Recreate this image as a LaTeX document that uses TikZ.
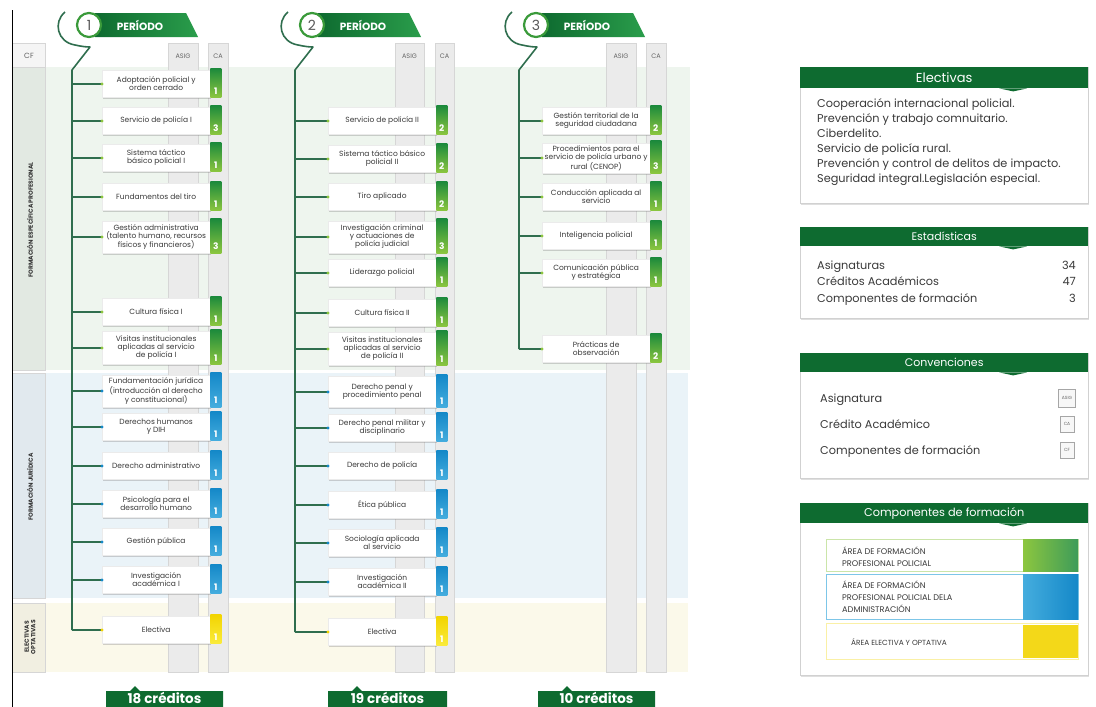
\documentclass[tikz,border=0pt]{standalone}
\usepackage{fontspec}
\setmainfont{Poppins}
\usetikzlibrary{shadows,calc}
\definecolor{dkgreen}{HTML}{0E6B30}
\definecolor{bannerR}{HTML}{2A9D4B}
\definecolor{trunkc}{HTML}{2F6E4E}
\definecolor{tabgA}{HTML}{1C8A3C}
\definecolor{tabgB}{HTML}{8CC63F}
\definecolor{tabbA}{HTML}{1488C8}
\definecolor{tabbB}{HTML}{45ADDE}
\definecolor{tabyA}{HTML}{F2D400}
\definecolor{tabyB}{HTML}{FAEB3C}
\definecolor{bandG}{HTML}{EEF5EE}
\definecolor{bandB}{HTML}{EAF3F8}
\definecolor{bandY}{HTML}{FBF9EA}
\definecolor{colgrey}{HTML}{EBEBEB}
\definecolor{colline}{HTML}{D6D6D6}
\definecolor{txt}{HTML}{3A3A3A}
\definecolor{ringc}{HTML}{3A9A3A}
\tikzset{
  x=1pt, y=-1pt,
  cbox/.style={fill=white, draw=black!8, line width=0.3pt, minimum width=108pt,
    inner sep=1pt, align=center, text=txt, font=\fontsize{7.5}{8}\selectfont,
    drop shadow={shadow xshift=0.8pt, shadow yshift=-1.5pt, opacity=0.35}},
  branch/.style={draw=trunkc, line width=1.4pt},
  trunkline/.style={draw=trunkc, line width=1.6pt, line join=round},
  tabg/.style={top color=tabgA, bottom color=tabgB},
  tabb/.style={top color=tabbA, bottom color=tabbB},
  taby/.style={top color=tabyA, bottom color=tabyB},
  dotg/.style={fill=tabgB},
  dotb/.style={fill=tabbA},
  doty/.style={fill=tabyA},
  tabnum/.style={text=white, font=\bfseries\fontsize{9}{9}\selectfont, inner sep=0},
  colband/.style={fill=colgrey, draw=colline, line width=0.4pt},
  hdr/.style={text=black!60, font=\fontsize{6.5}{7}\selectfont},
  cflabel/.style={text=black!80, font=\bfseries\fontsize{6}{6.6}\selectfont, rotate=90, align=center},
  panel/.style={fill=white, draw=black!18, line width=0.5pt, minimum width=288pt, inner sep=0,
    drop shadow={shadow xshift=0.8pt, shadow yshift=-1.5pt, opacity=0.25}},
  phead/.style={fill=dkgreen, text=white, minimum width=288pt, inner sep=0},
  ptext/.style={text=txt, font=\fontsize{11.3}{12}\selectfont, inner sep=0, anchor=base west},
  credit/.style={fill=dkgreen},
  credtext/.style={text=white, font=\bfseries\fontsize{13.5}{14}\selectfont, anchor=base, inner sep=0},
  convbox/.style={draw=black!35, fill=black!3, inner sep=0, text=black!60, font=\fontsize{4.5}{5}\selectfont},
  comptext/.style={ptext, font=\fontsize{8.2}{9}\selectfont},
}
\newcommand\course[8]{%
  \coordinate (#1t) at (#2,#4);
  \node[cbox, minimum height=#5pt, anchor=west] (#1) at (#3,#4) {#8};
  \path[tab#6] ($(#1.north east)+(0,-2)$) rectangle ($(#1.south east)+(11,0)$);
  \node[tabnum] (#1n) at ($(#1.south east)+(5.5,-6.5)$) {#7};
  \draw[branch] (#1t) -- (#1.west);
  \fill[dot#6] (#1.west) circle (1.7pt);
}
\newcommand\period[4]{%
  \begin{scope}[xshift=#2pt]
    \path[left color=dkgreen, right color=bannerR] (95,13) -- (186,13) -- (198,37) -- (95,37) -- cycle;
    \node[text=white, font=\bfseries\fontsize{10.5}{11}\selectfont] (#1p) at (140,25) {PERÍODO};
    \node[circle, fill=white, draw=ringc, line width=2.2pt, minimum size=24pt, inner sep=0,
      font=\fontsize{14}{14}\selectfont, text=black!65] (#1) at (89,25) {#3};
    \coordinate (#1top) at (72,70);
  \end{scope}
  \draw[trunkline] ($(#1top)+(-7,-58)$) .. controls ($(#1top)+(-19,-48)$) and ($(#1top)+(-15,-28)$) .. ($(#1top)+(3,-25)$)
     .. controls ($(#1top)+(10,-23.5)$) and ($(#1top)+(14,-23)$) .. ($(#1top)+(18,-23)$) -- (#1top) -- (#4);
}
\begin{document}
\begin{tikzpicture}
\useasboundingbox (0,0) rectangle (1096,707);
\fill[white] (0,0) rectangle (1096,707);
% row bands
\fill[bandG] (45,67) rectangle (690,370);
\fill[bandB] (45,373) rectangle (688,598);
\fill[bandY] (45,603) rectangle (688,672);
% CF column
\path[fill=black!4, draw=colline, line width=0.4pt] (12,43) rectangle (45,67);
\path[fill=black!5!bandG, draw=colline, line width=0.4pt] (12,67) rectangle (45,370);
\path[fill=black!4!bandB, draw=colline, line width=0.4pt] (12,373) rectangle (45,598);
\path[fill=black!4!bandY, draw=colline, line width=0.4pt] (12,603) rectangle (45,672);
\node[hdr, font=\fontsize{7.5}{8}\selectfont] (hcf) at (29,56) {CF};
\node[cflabel] (l1) at (30,220) {FORMACIÓN ESPECÍFICA PROFESIONAL};
\node[cflabel] (l2) at (30,487) {FORMACIÓN JURÍDICA};
\node[cflabel] (l3) at (30,637) {ELECTIVAS\\OPTATIVAS};
% ASIG / CA column bands
\path[colband] (168,43) rectangle (198,672);
\path[colband] (208,43) rectangle (228,672);
\path[colband] (395,43) rectangle (424,672);
\path[colband] (435,43) rectangle (454,672);
\path[colband] (606,43) rectangle (636,672);
\path[colband] (646,43) rectangle (666,672);
\node[hdr] (ha1) at (183,56) {ASIG};
\node[hdr] (hc1) at (218,56) {CA};
\node[hdr] (ha2) at (409.5,56) {ASIG};
\node[hdr] (hc2) at (444.5,56) {CA};
\node[hdr] (ha3) at (621,56) {ASIG};
\node[hdr] (hc3) at (656,56) {CA};
% left frame line
\draw[black, line width=1pt] (12,10) -- (12,707);

% ---------------- column 1
\course{a1}{72}{102}{84}{27}{g}{1}{Adoptación policial y\\orden cerrado}
\course{a2}{72}{102}{121}{27}{g}{3}{Servicio de policía I}
\course{a3}{72}{102}{158}{27}{g}{1}{Sistema táctico\\básico policial I}
\course{a4}{72}{102}{197}{27}{g}{1}{Fundamentos del tiro}
\course{a5}{72}{102}{237}{32}{g}{3}{Gestión administrativa\\(talento humano, recursos\\físicos y financieros)}
\course{a6}{72}{102}{312}{27}{g}{1}{Cultura física I}
\course{a7}{72}{102}{348}{33}{g}{1}{Visitas institucionales\\aplicadas al servicio\\de policía I}
\course{a8}{72}{102}{391}{32}{b}{1}{Fundamentación jurídica\\(introducción al derecho\\y constitucional)}
\course{a9}{72}{102}{427}{27}{b}{1}{Derechos humanos\\y DIH}
\course{a10}{72}{102}{466}{27}{b}{1}{Derecho administrativo}
\course{a11}{72}{102}{504}{27}{b}{1}{Psicología para el\\desarrollo humano}
\course{a12}{72}{102}{542}{27}{b}{1}{Gestión pública}
\course{a13}{72}{102}{580}{27}{b}{1}{Investigación\\académica I}
\course{a14}{72}{102}{630}{27}{y}{1}{Electiva}
\period{p1}{0}{1}{a14t}

% ---------------- column 2
\course{b1}{295}{328}{121}{27}{g}{2}{Servicio de policía II}
\course{b2}{295}{328}{159}{27}{g}{2}{Sistema táctico básico\\policial II}
\course{b3}{295}{328}{197}{27}{g}{2}{Tiro aplicado}
\course{b4}{295}{328}{237}{32}{g}{3}{Investigación criminal\\y actuaciones de\\policía judicial}
\course{b5}{295}{328}{273}{27}{g}{1}{Liderazgo policial}
\course{b6}{295}{328}{313}{27}{g}{1}{Cultura física II}
\course{b7}{295}{328}{349}{33}{g}{1}{Visitas institucionales\\aplicadas al servicio\\de policía II}
\course{b8}{295}{328}{392}{31}{b}{1}{Derecho penal y\\procedimiento penal}
\course{b9}{295}{328}{428}{27}{b}{1}{Derecho penal militar y\\disciplinario}
\course{b10}{295}{328}{466}{27}{b}{1}{Derecho de policía}
\course{b11}{295}{328}{505}{27}{b}{1}{Ética pública}
\course{b12}{295}{328}{543}{27}{b}{1}{Sociología aplicada\\al servicio}
\course{b13}{295}{328}{582}{27}{b}{1}{Investigación\\académica II}
\course{b14}{295}{328}{632}{27}{y}{1}{Electiva}
\period{p2}{223}{2}{b14t}

% ---------------- column 3
\course{c1}{519}{542}{121}{27}{g}{2}{Gestión territorial de la\\seguridad ciudadana}
\course{c2}{519}{542}{158}{30}{g}{3}{Procedimientos para el\\servicio de policía urbano y\\rural (CENOP)}
\course{c3}{519}{542}{197}{27}{g}{1}{Conducción aplicada al\\servicio}
\course{c4}{519}{542}{236}{27}{g}{1}{Inteligencia policial}
\course{c5}{519}{542}{273}{27}{g}{1}{Comunicación pública\\y estratégica}
\course{c6}{519}{542}{349}{27}{g}{2}{Prácticas de\\observación}
\period{p3}{447}{3}{c6t}

% ---------------- credits banners
\path[credit] (106,691) -- (130,691) -- (135,686) -- (140,691) -- (223,691) -- (223,712) -- (106,712) -- cycle;
\node[credtext] (cr1) at (164.5,703) {18 créditos};
\path[credit] (328,691) -- (352,691) -- (357,686) -- (362,691) -- (447,691) -- (447,712) -- (328,712) -- cycle;
\node[credtext] (cr2) at (387.5,703) {19 créditos};
\path[credit] (538,691) -- (562,691) -- (567,686) -- (572,691) -- (655,691) -- (655,712) -- (538,712) -- cycle;
\node[credtext] (cr3) at (596.5,703) {10 créditos};

% ---------------- right panels
% Electivas
\node[panel, minimum height=136pt, anchor=north west] (pel) at (800,67) {};
\node[phead, minimum height=21pt, anchor=north west, font=\fontsize{13}{14}\selectfont] (hel) at (800,67) {Electivas};
\fill[dkgreen] ($(hel.south)+(55,0)$) -- ++(14,3) -- ++(14,-3) -- cycle;
\node[ptext] (e1) at (817,107) {Cooperación internacional policial.};
\node[ptext] (e2) at (817,122) {Prevención y trabajo comnuitario.};
\node[ptext] (e3) at (817,137) {Ciberdelito.};
\node[ptext] (e4) at (817,152) {Servicio de policía rural.};
\node[ptext] (e5) at (817,167) {Prevención y control de delitos de impacto.};
\node[ptext] (e6) at (817,182.5) {Seguridad integral.Legislación especial.};
% Estadisticas
\node[panel, minimum height=91pt, anchor=north west] (pes) at (800,227) {};
\node[phead, minimum height=19pt, anchor=north west, font=\fontsize{11}{12}\selectfont] (hes) at (800,227) {Estadísticas};
\fill[dkgreen] ($(hes.south)+(55,0)$) -- ++(14,3) -- ++(14,-3) -- cycle;
\node[ptext] (s1) at (817,269) {Asignaturas};
\node[ptext] (s2) at (817,285) {Créditos Académicos};
\node[ptext] (s3) at (817,302) {Componentes de formación};
\node[ptext, anchor=base east] (n1) at (1076,269) {34};
\node[ptext, anchor=base east] (n2) at (1076,285) {47};
\node[ptext, anchor=base east] (n3) at (1076,302) {3};
% Convenciones
\node[panel, minimum height=125pt, anchor=north west] (pco) at (800,353) {};
\node[phead, minimum height=19pt, anchor=north west, font=\fontsize{11}{12}\selectfont] (hco) at (800,353) {Convenciones};
\fill[dkgreen] ($(hco.south)+(55,0)$) -- ++(14,3) -- ++(14,-3) -- cycle;
\node[ptext] (v1) at (820,402) {Asignatura};
\node[ptext] (v2) at (820,428) {Crédito Académico};
\node[ptext] (v3) at (820,454) {Componentes de formación};
\node[convbox, minimum width=17pt, minimum height=18pt] (k1) at (1067,398) {ASIG};
\node[convbox, minimum width=14pt, minimum height=16pt] (k2) at (1067,424) {CA};
\node[convbox, minimum width=14pt, minimum height=16pt] (k3) at (1067,450) {CF};
% Componentes de formacion
\node[panel, minimum height=172pt, anchor=north west] (pcf) at (800,503) {};
\node[phead, minimum height=20pt, anchor=north west, font=\fontsize{11.3}{12}\selectfont] (hcfp) at (800,503) {Componentes de formación};
\fill[dkgreen] ($(hcfp.south)+(55,0)$) -- ++(14,3) -- ++(14,-3) -- cycle;
\path[fill=white, draw=tabgB!45, line width=0.5pt] (826,539) rectangle (1078,571);
\path[left color=tabgB, right color=tabgA!85] (1023,539) rectangle (1078,571);
\path[fill=white, draw=tabbB!70, line width=0.5pt] (826,574) rectangle (1078,619);
\path[left color=tabbB, right color=tabbA] (1023,574) rectangle (1078,619);
\path[fill=white, draw=tabyA!35, line width=0.5pt] (826,623) rectangle (1078,659);
\path[fill=tabyA!90!white] (1023,625) rectangle (1078,658);
\node[comptext] (r1a) at (842,554) {ÁREA DE FORMACIÓN};
\node[comptext] (r1b) at (842,566) {PROFESIONAL POLICIAL};
\node[comptext] (r2a) at (842,588) {ÁREA DE FORMACIÓN};
\node[comptext] (r2b) at (842,600) {PROFESIONAL POLICIAL DELA};
\node[comptext] (r2c) at (842,612) {ADMINISTRACIÓN};
\node[comptext, font=\fontsize{7.4}{8}\selectfont] (r3a) at (851,645) {ÁREA ELECTIVA Y OPTATIVA};
\end{tikzpicture}
\end{document}
